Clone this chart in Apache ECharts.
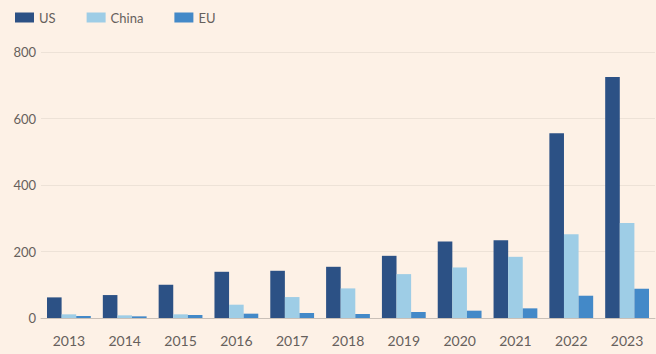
<!DOCTYPE html>
<html>
<head>
<meta charset="utf-8">
<script src="https://cdn.jsdelivr.net/npm/echarts@6/dist/echarts.min.js"></script>
<style>
  html, body { margin: 0; padding: 0; background: #fdf1e6; }
  #chart { width: 656px; height: 354px; }
</style>
</head>
<body>
<div id="chart"></div>
<script>
var years = ['2013', '2014', '2015', '2016', '2017', '2018', '2019', '2020', '2021', '2022', '2023'];
var usValues = [62, 69, 100, 139, 142, 154, 187, 230, 234, 556, 725];
var chinaValues = [11, 8, 11, 40, 63, 89, 132, 152, 184, 252, 286];
var euValues = [6, 5, 9, 13, 15, 12, 18, 22, 29, 67, 88];
var yTicks = [0, 200, 400, 600, 800];

var textColor = '#66605c';
var chart = echarts.init(document.getElementById('chart'), null, { renderer: 'svg' });

function bar(name, values, color) {
  return {
    name: name,
    type: 'bar',
    data: values,
    barWidth: 14.6,
    barGap: '0%',
    itemStyle: { color: color },
    emphasis: { disabled: true }
  };
}

chart.setOption({
  backgroundColor: '#fdf1e6',
  animation: false,
  textStyle: { fontFamily: 'Lato', color: textColor },
  legend: {
    left: 10,
    top: 6,
    itemWidth: 19,
    itemHeight: 10,
    itemGap: 31,
    icon: 'rect',
    textStyle: { fontSize: 13, color: textColor, fontFamily: 'Lato' },
    data: ['US', 'China', 'EU']
  },
  grid: { left: 41, right: 1, top: 52, bottom: 36, containLabel: false },
  xAxis: {
    type: 'category',
    data: years,
    axisLine: { lineStyle: { color: '#c9c0b8' } },
    axisTick: { alignWithLabel: true, length: 6, lineStyle: { color: '#d8cfc6' } },
    axisLabel: { fontSize: 14, color: textColor, margin: 15 }
  },
  yAxis: {
    type: 'value',
    min: yTicks[0],
    max: yTicks[yTicks.length - 1],
    interval: 200,
    axisLine: { show: false },
    axisTick: { show: false },
    splitLine: { lineStyle: { color: '#ede2d7' } },
    axisLabel: { fontSize: 13, color: textColor, margin: 5 }
  },
  series: [
    bar('US', usValues, '#2c5185'),
    bar('China', chinaValues, '#9ecde6'),
    bar('EU', euValues, '#4389c8')
  ]
});
</script>
</body>
</html>
